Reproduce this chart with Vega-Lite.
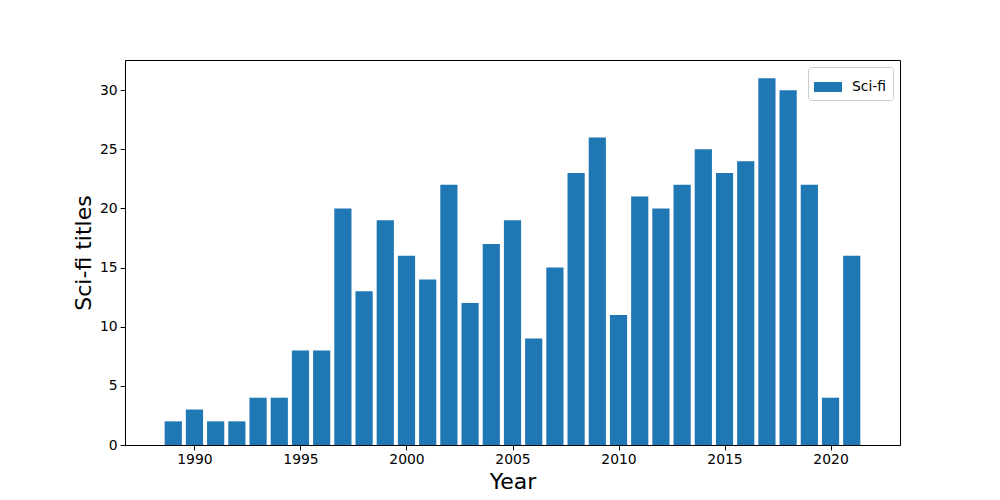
{
  "$schema": "https://vega.github.io/schema/vega-lite/v6.json",
  "width": 775,
  "height": 385,
  "autosize": {"type": "none"},
  "padding": {"left": 125, "top": 60, "right": 100, "bottom": 55},
  "background": "white",
  "config": {
    "font": "DejaVu Sans",
    "view": {"stroke": "black", "strokeWidth": 1},
    "axis": {
      "grid": false,
      "domainColor": "black",
      "tickColor": "black",
      "tickSize": 4.9,
      "labelFontSize": 13.9,
      "labelColor": "black",
      "labelPadding": 3,
      "titleFontSize": 22,
      "titleFontWeight": "normal",
      "titleColor": "black"
    }
  },
  "data": {
    "values": [
      {"year": 1989, "count": 2, "series": "Sci-fi"},
      {"year": 1990, "count": 3, "series": "Sci-fi"},
      {"year": 1991, "count": 2, "series": "Sci-fi"},
      {"year": 1992, "count": 2, "series": "Sci-fi"},
      {"year": 1993, "count": 4, "series": "Sci-fi"},
      {"year": 1994, "count": 4, "series": "Sci-fi"},
      {"year": 1995, "count": 8, "series": "Sci-fi"},
      {"year": 1996, "count": 8, "series": "Sci-fi"},
      {"year": 1997, "count": 20, "series": "Sci-fi"},
      {"year": 1998, "count": 13, "series": "Sci-fi"},
      {"year": 1999, "count": 19, "series": "Sci-fi"},
      {"year": 2000, "count": 16, "series": "Sci-fi"},
      {"year": 2001, "count": 14, "series": "Sci-fi"},
      {"year": 2002, "count": 22, "series": "Sci-fi"},
      {"year": 2003, "count": 12, "series": "Sci-fi"},
      {"year": 2004, "count": 17, "series": "Sci-fi"},
      {"year": 2005, "count": 19, "series": "Sci-fi"},
      {"year": 2006, "count": 9, "series": "Sci-fi"},
      {"year": 2007, "count": 15, "series": "Sci-fi"},
      {"year": 2008, "count": 23, "series": "Sci-fi"},
      {"year": 2009, "count": 26, "series": "Sci-fi"},
      {"year": 2010, "count": 11, "series": "Sci-fi"},
      {"year": 2011, "count": 21, "series": "Sci-fi"},
      {"year": 2012, "count": 20, "series": "Sci-fi"},
      {"year": 2013, "count": 22, "series": "Sci-fi"},
      {"year": 2014, "count": 25, "series": "Sci-fi"},
      {"year": 2015, "count": 23, "series": "Sci-fi"},
      {"year": 2016, "count": 24, "series": "Sci-fi"},
      {"year": 2017, "count": 31, "series": "Sci-fi"},
      {"year": 2018, "count": 30, "series": "Sci-fi"},
      {"year": 2019, "count": 22, "series": "Sci-fi"},
      {"year": 2020, "count": 4, "series": "Sci-fi"},
      {"year": 2021, "count": 16, "series": "Sci-fi"}
    ]
  },
  "mark": {"type": "bar", "size": 17.2},
  "encoding": {
    "x": {
      "field": "year",
      "type": "quantitative",
      "scale": {"domain": [1986.96, 2023.04], "nice": false, "zero": false},
      "axis": {"values": [1990, 1995, 2000, 2005, 2010, 2015, 2020], "format": "d", "title": "Year", "titlePadding": 5}
    },
    "y": {
      "field": "count",
      "type": "quantitative",
      "scale": {"domain": [0, 32.55], "nice": false},
      "axis": {"values": [0, 5, 10, 15, 20, 25, 30], "title": "Sci-fi titles", "titlePadding": 4}
    },
    "color": {
      "field": "series",
      "type": "nominal",
      "scale": {"domain": ["Sci-fi"], "range": ["#1f77b4"]},
      "legend": {
        "title": null,
        "orient": "top-right",
        "offset": 7,
        "symbolType": "M-1,-0.357L1,-0.357L1,0.357L-1,0.357Z",
        "symbolSize": 784,
        "symbolStrokeWidth": 0,
        "symbolOpacity": 1,
        "labelFontSize": 13.9,
        "labelColor": "black",
        "labelOffset": 10,
        "strokeColor": "#cccccc",
        "fillColor": "white",
        "cornerRadius": 3,
        "padding": 6
      }
    }
  }
}
